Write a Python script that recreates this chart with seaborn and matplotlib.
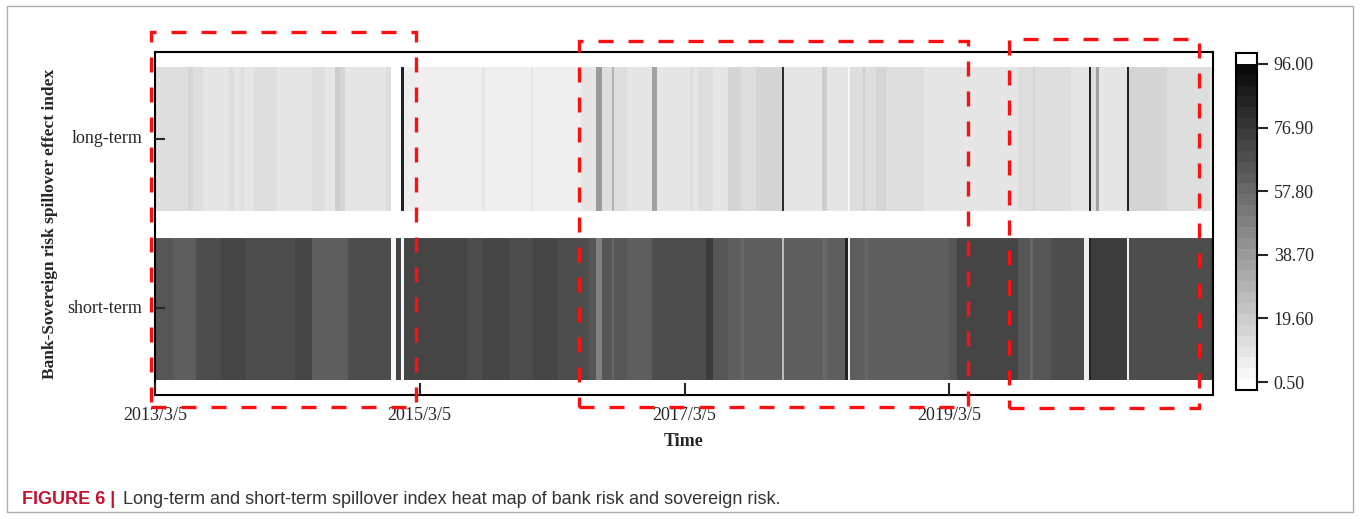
import numpy as np
import pandas as pd
import matplotlib
matplotlib.use('Agg')
import matplotlib.pyplot as plt
import seaborn as sns
from matplotlib.colors import ListedColormap
from matplotlib.patches import Rectangle
from matplotlib.ticker import FormatStrFormatter

# rows of the heat map and the time axis (weekly observations from 2013/3/5)
rows = ['long-term', 'short-term']
start_date = '2013-03-05'
tick_labels = ['2013/3/5', '2015/3/5', '2017/3/5', '2019/3/5']
cbar_ticks = [0.50, 19.60, 38.70, 57.80, 76.90, 96.00]

# spillover index: value and number of weeks
long_vals = [13, 16, 13, 10, 13, 11, 14, 11, 12, 14, 10, 13, 11, 20, 17, 10, 13, 1, 86, 7.5,
             7, 10, 7, 11, 7.5, 11, 38, 13, 30, 13, 11, 35, 11, 10, 14, 10, 13, 11, 16, 14, 17,
             15, 82, 11, 19, 10, 2, 13, 20, 13, 17, 13, 10, 9, 11, 14, 17, 14, 13, 10, 85,
             13, 36, 11, 85, 15, 17, 15, 14, 9]
long_weeks = [13, 2, 4, 10, 2, 3, 1, 4, 3, 6, 14, 5, 4, 2, 2, 16, 2, 4, 1, 6,
              25, 1, 18, 1, 19, 6, 2, 4, 1, 5, 10, 2, 11, 2, 1, 2, 6, 6, 5, 6, 2,
              8, 1, 15, 2, 8, 1, 5, 1, 4, 4, 15, 10, 13, 14, 6, 1, 6, 8, 7, 1,
              2, 1, 11, 1, 8, 1, 6, 17, 1]

short_vals = [66, 63, 69, 71, 69, 71, 63, 61, 69, 2, 73, 2, 71, 68, 70, 68, 71, 69,
              66, 49, 66, 60, 66, 63, 69, 68, 69, 74, 66, 61, 58, 61, 62, 25, 63, 58, 63,
              85, 5, 62, 58, 62, 61, 62, 66, 73, 71, 66, 60, 66, 69, 5, 85, 75, 5, 69,
              67, 73]
short_weeks = [7, 9, 10, 10, 19, 7, 9, 5, 17, 2, 2, 1, 25, 6, 11, 9, 10, 12,
               3, 2, 4, 1, 5, 10, 3, 10, 8, 3, 6, 5, 1, 5, 10, 1, 15, 2, 7,
               1, 1, 6, 1, 7, 15, 10, 3, 10, 14, 5, 1, 7, 13, 2, 1, 14, 1, 15,
               17, 1]

long_series = np.repeat(long_vals, long_weeks)
short_series = np.repeat(short_vals, short_weeks)
dates = pd.date_range(start_date, periods=len(long_series), freq='7D')
df = pd.DataFrame([long_series, short_series], index=rows, columns=dates)

# discrete grey scale, white at the bottom, black near 96, white cap on top
vmin, vmax = -1.9, 99.3
edges = np.linspace(vmin, vmax, 32)
centers = (edges[:-1] + edges[1:]) / 2
greys = np.clip(255 - 2.6 * centers, 0, 255) / 255
colors = [(g, g, g) for g in greys[:-1]] + [(1, 1, 1)]
cmap = ListedColormap(colors)

sns.set_style('white')
plt.rcParams['font.family'] = ['Liberation Serif', 'DejaVu Serif']

W, H = 1360, 519
fig = plt.figure(figsize=(W / 100, H / 100), dpi=100)
ax = fig.add_axes([155 / W, 1 - 395 / H, 1058 / W, 343 / H])
cax = fig.add_axes([1236 / W, 1 - 390 / H, 21 / W, 337 / H])

sns.heatmap(df, ax=ax, cbar_ax=cax, cmap=cmap, vmin=vmin, vmax=vmax,
            xticklabels=False, yticklabels=rows,
            cbar_kws={'ticks': cbar_ticks})
ax.set_axisbelow(False)

# white bands above, between and below the two rows
pad = 0.096
gap = 0.172
ax.set_ylim(2 + pad, -pad)
ax.axhline(1, color='white', lw=19.5)

start = pd.Timestamp(start_date)
tick_pos = [(pd.Timestamp(t.replace('/', '-')) - start).days / 7 for t in tick_labels]
ax.set_xticks(tick_pos)
ax.set_xticklabels(tick_labels)
# ticks at the middle of the visible part of each row
ax.set_yticks([0.5 - gap / 4, 1.5 + gap / 4])
ax.set_yticklabels(rows, rotation=0)
ax.tick_params(axis='x', direction='in', length=9, width=1.5, labelsize=13, pad=9,
               bottom=True)
ax.tick_params(axis='y', direction='in', length=7, width=1.5, labelsize=13, pad=9,
               left=True)
for s in ax.spines.values():
    s.set_visible(True)
    s.set_color('black')
    s.set_linewidth(1.5)
ax.set_xlabel('Time', fontsize=13, fontweight='bold', labelpad=6)
ax.set_ylabel('Bank-Sovereign risk spillover effect index', fontsize=12.5,
              fontweight='bold', labelpad=7)

cbar = ax.collections[0].colorbar
cbar.outline.set_edgecolor('black')
cbar.outline.set_linewidth(1.5)
cax.yaxis.set_major_formatter(FormatStrFormatter('%.2f'))
cax.tick_params(direction='out', length=8, width=1.5, labelsize=13, pad=4)

# red dashed boxes (pixel extents in the figure)
boxes = [(151, 32, 416, 407), (579, 41, 968, 407), (1009, 39, 1199, 408)]
for x0, y0, x1, y1 in boxes:
    fig.patches.append(Rectangle((x0 / W, 1 - y1 / H), (x1 - x0) / W, (y1 - y0) / H,
                                 transform=fig.transFigure, fill=False,
                                 edgecolor='#ff1010', lw=2.4, ls=(0, (4.5, 4.5)),
                                 zorder=10))

# outer frame and caption
fig.patches.append(Rectangle((7 / W, 1 - 512 / H), 1346 / W, 506 / H,
                             transform=fig.transFigure, fill=False,
                             edgecolor='#b0b0b0', lw=1))
cap_font = ['Liberation Sans Narrow', 'Liberation Sans', 'DejaVu Sans']
fig.text(22 / W, 1 - 500 / H, 'FIGURE 6 |', color='#c4122f', fontweight='bold',
         fontsize=13, family=cap_font, va='center')
fig.text(123 / W, 1 - 500 / H,
         'Long-term and short-term spillover index heat map of bank risk and sovereign risk.',
         color='#333333', fontsize=13, family=cap_font, va='center')

fig.savefig('out.png', dpi=100)
